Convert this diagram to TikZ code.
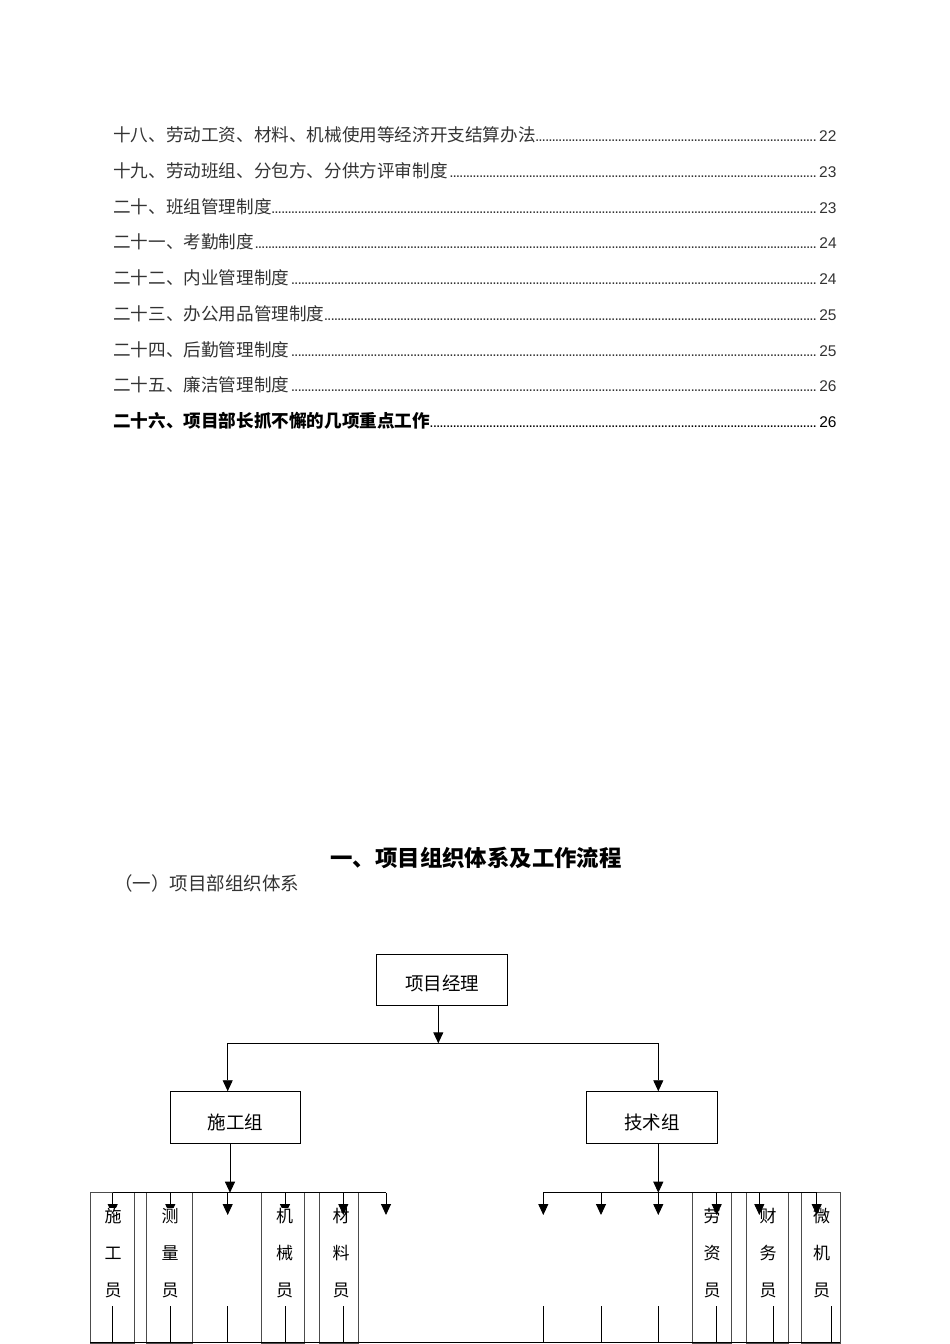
\documentclass[tikz,border=0pt]{standalone}
\usepackage{fontspec}
\setmainfont{Liberation Sans}
\newfontfamily\cjk{Noto Sans CJK SC}
\usetikzlibrary{arrows.meta}
\newcommand\tocdots{\leaders\hbox to 3.3pt{\hss.\hss}\hfill}
\newcommand\tocline[2]{\hbox to 723pt{{\cjk #1}{\fontsize{15.5}{16}\selectfont\tocdots #2}}}
\newcommand\boxtext[2]{\raisebox{#1}[0pt][0pt]{#2}}
\tikzset{
  toc/.style={anchor=base west, inner sep=0pt, text=black!80, font=\fontsize{17.6}{20}\selectfont},
  orgbox/.style={draw, line width=0.9pt, minimum width=130.6pt, minimum height=51pt, inner sep=0pt, font=\cjk\fontsize{18.5}{20}\selectfont},
  arr/.style={-{Triangle[length=11pt,width=10pt]}, line width=0.9pt},
  conn/.style={line width=0.9pt},
  staffbox/.style={draw=black!70, line width=0.9pt},
  vlab/.style={align=center, inner sep=0pt, font=\cjk\fontsize{17}{37}\selectfont},
  hidelab/.style={vlab, fill=white}
}
\begin{document}
\begin{tikzpicture}[x=1pt,y=-1pt]
\useasboundingbox (0,0) rectangle (950,1344);
% table of contents
\node[toc] (t18) at (113,141.7)  {\tocline{十八、劳动工资、材料、机械使用等经济开支结算办法}{22}};
\node[toc] (t19) at (113,177.45) {\tocline{十九、劳动班组、分包方、分供方评审制度}{23}};
\node[toc] (t20) at (113,213.2)  {\tocline{二十、班组管理制度}{23}};
\node[toc] (t21) at (113,248.95) {\tocline{二十一、考勤制度}{24}};
\node[toc] (t22) at (113,284.7)  {\tocline{二十二、内业管理制度}{24}};
\node[toc] (t23) at (113,320.45) {\tocline{二十三、办公用品管理制度}{25}};
\node[toc] (t24) at (113,356.2)  {\tocline{二十四、后勤管理制度}{25}};
\node[toc] (t25) at (113,391.95) {\tocline{二十五、廉洁管理制度}{26}};
\node[toc, text=black] (t26) at (113,427.7) {\tocline{\bfseries 二十六、项目部长抓不懈的几项重点工作}{26}};
% headings
\node[anchor=base, inner sep=0pt, font=\cjk\bfseries\fontsize{22.4}{24}\selectfont] (h1) at (476,866) {一、项目组织体系及工作流程};
\node[anchor=base west, inner sep=0pt, text=black!80, font=\cjk\fontsize{18.5}{20}\selectfont] (h2) at (114,890) {（一）项目部组织体系};
% org chart top
\node[orgbox] (pm) at (442,979.5) {\boxtext{-10.8pt}{项目经理}};
\node[orgbox, minimum height=51.6pt] (sg) at (235.3,1117.5) {\boxtext{-12pt}{施工组}};
\node[orgbox, minimum height=51.6pt] (js) at (652,1117.5) {\boxtext{-11.5pt}{技术组}};
\coordinate (j1) at (438.3,1043.3);
\coordinate (l1) at (227.7,1043.3);
\coordinate (r1) at (658.3,1043.3);
\draw[arr] (pm.south -| j1) -- (j1);
\draw[conn] (l1) -- (r1);
\draw[arr] (l1) -- (l1 |- sg.north);
\draw[arr] (r1) -- (r1 |- js.north);
\coordinate (j2) at (230,1192.7);
\coordinate (j3) at (658.3,1192.7);
\draw[arr] (sg.south -| j2) -- (j2);
\draw[arr] (js.south -| j3) -- (j3);
% staff boxes
\draw[staffbox] (90,1192.7) rectangle (134,1343);
\draw[staffbox] (146.7,1192.7) rectangle (192.7,1343);
\draw[staffbox] (261.7,1192.7) rectangle (304,1343);
\draw[staffbox] (319.3,1192.7) rectangle (358.3,1343);
\draw[staffbox] (692.7,1192.7) rectangle (731.7,1343);
\draw[staffbox] (746.7,1192.7) rectangle (788.3,1343);
\draw[staffbox] (801.7,1192.7) rectangle (840,1343);
% buses
\coordinate (bl1) at (112.7,1192.7);
\coordinate (bl2) at (386,1192.7);
\coordinate (br1) at (543.3,1192.7);
\coordinate (br2) at (816.7,1192.7);
\draw[conn] (bl1) -- (bl2);
\draw[conn] (br1) -- (br2);
\foreach \x in {112.7,170.3,227.7,285,343.3,386,543.3,601,658.3,716.7,759.3,816.7}
  \draw[arr] (\x,1192.7) -- (\x,1215);
% labels
\node[hidelab] (s1) at (113,1253) {施\\工\\员};
\node[hidelab] (s2) at (170,1253) {测\\量\\员};
\node[hidelab] (s3) at (284.5,1253) {机\\械\\员};
\node[vlab] (s4) at (341,1253) {材\\料\\员};
\node[vlab] (s5) at (712,1253) {劳\\资\\员};
\node[vlab] (s6) at (768,1253) {财\\务\\员};
\node[vlab] (s7) at (821.5,1253) {微\\机\\员};
% lower stubs
\foreach \x in {112.7,170.3,227.7,285,343.3,543.3,601,658.3,716.7,773.3,831.7}
  \draw[conn] (\x,1306) -- (\x,1343);
\coordinate (bb1) at (90,1342.7);
\coordinate (bb2) at (840,1342.7);
\draw[conn] (bb1) -- (bb2);
\end{tikzpicture}
\end{document}
